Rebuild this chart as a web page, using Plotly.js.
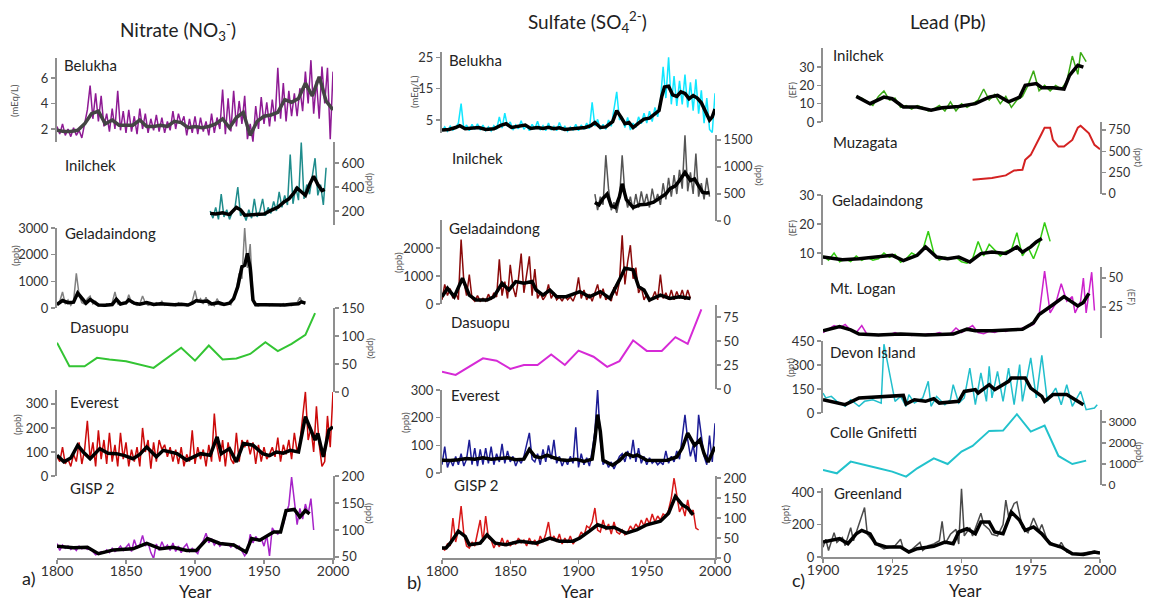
<!DOCTYPE html>
<html><head><meta charset="utf-8">
<script src="https://cdn.plot.ly/plotly-3.0.1.min.js"></script>
<style>html,body{margin:0;padding:0;background:#fff}#chart{width:1151px;height:601px}</style>
</head><body><div id="chart"></div>
<script>
function span(a, b, s) { const o = []; for (let v = a; v <= b + 1e-9; v += s) o.push(v); return o; }

// ---------------- a) Nitrate ----------------
const nitBelukhaYears = span(1800, 2000, 2);
const nitBelukhaRaw = [2.2,1.6,2.4,1.5,2.0,1.4,2.1,1.5,1.9,1.3, 2.4,3.5,5.4,2.8,4.8,2.6,4.6,2.2,3.2,1.8, 3.6,2.0,5.0,1.9,3.4,1.7,3.5,1.8,3.0,1.6, 3.6,2.0,3.2,1.7,2.8,1.9,3.1,1.8,2.9,1.7, 2.6,1.9,3.4,2.0,3.2,2.4,3.0,1.5,2.8,1.7, 3.0,1.6,2.9,1.8,2.6,1.5,3.2,1.7,2.9,2.0, 5.1,1.6,4.4,1.8,5.0,2.2,4.2,2.4,4.6,1.2, 2.4,1.0,3.8,2.0,4.5,2.4,4.1,2.2,4.3,2.6, 6.8,2.8,5.6,2.6,5.0,3.0,4.8,3.0,5.2,3.4, 6.5,4.0,7.4,3.2,5.8,2.8,6.9,4.0,6.8,1.2,6.5];
const nitBelukhaSmYears = span(1800, 2000, 5);
const nitBelukhaSm = [1.9,1.8,1.8,1.9,2.4,3.2,3.4,2.4,2.7,2.3, 2.3,2.3,2.7,2.2,2.2,2.3,2.2,2.6,2.5,2.1, 2.2,2.1,2.2,2.4,2.8,2.1,2.9,3.3,1.5,2.6, 3.0,3.1,3.3,4.3,4.1,4.4,5.6,4.6,6.1,4.2,3.5];

const nitInilchekYears = span(1911, 1995, 2);
const nitInilchekRaw = [200,140,230,130,340,150,210,130,190,230, 400,160,190,120,210,140,300,150,200,300, 160,230,180,280,200,360,230,330,250,670, 260,400,290,770,300,420,340,480,640,330, 420,250,560];
const nitInilchekSmYears = [1911,1915,1920,1925,1930,1933,1936,1940,1945,1950,1955,1960,1965,1968,1971,1974,1977,1980,1983,1986,1989,1992,1994];
const nitInilchekSm = [180,175,185,170,230,210,165,170,175,175,205,230,280,300,340,390,360,330,420,490,420,370,380];

const nitGelYears = span(1800, 1980, 2);
const nitGelRaw = [100,250,600,150,300,100,250,1300,500,200, 150,350,450,150,250,80,120,60,150,100, 200,600,150,120,200,150,500,200,150,100, 150,450,200,100,150,100,200,120,250,100, 150,100,150,80,200,120,150,80,120,250, 650,200,350,150,400,100,150,80,350,120, 100,150,200,120,450,700,1300,1100,3000,1500, 2400,300,100,80,150,100,120,90,150,100, 120,80,160,100,120,90,150,200,400,200,150];
const nitGelSmYears = [1800,1804,1808,1812,1815,1818,1821,1824,1827,1830,1835,1840,1843,1846,1850,1852,1856,1860,1865,1870,1875,1880,1885,1890,1895,1898,1901,1905,1909,1912,1917,1921,1925,1928,1931,1934,1936,1938,1940,1942,1944,1950,1955,1960,1965,1970,1975,1977,1980];
const nitGelSm = [130,280,200,220,560,350,180,320,200,110,100,130,330,150,200,300,180,140,200,130,160,130,120,140,110,180,280,240,260,150,200,130,180,350,800,1550,1600,2050,1500,300,120,120,110,130,110,140,160,230,180];

const nitDasuopuYears = [1800,1809,1820,1829,1838,1850,1870,1890,1900,1910,1920,1930,1940,1951,1960,1970,1980,1987];
const nitDasuopu = [88,46,46,61,58,55,43,79,56,83,58,60,68,89,73,86,102,141];

const nitEverestYears = span(1800, 2000, 2);
const nitEverestRaw = [80,60,120,50,70,40,90,60,140,50, 110,230,70,140,40,190,70,150,50,180, 60,130,40,180,70,140,40,110,60,120, 40,200,100,150,30,140,60,150,110,130, 80,120,60,110,50,120,40,90,60,190, 50,120,70,110,40,130,60,260,120,60, 150,40,140,70,50,180,60,150,120,150, 90,140,50,130,60,120,70,90,120,80, 160,60,130,90,150,70,180,100,140,250, 350,150,200,100,290,130,40,60,250,120,350];
const nitEverestSmYears = [1800,1805,1810,1815,1819,1824,1831,1837,1843,1849,1855,1860,1865,1872,1877,1882,1887,1894,1899,1904,1911,1916,1919,1925,1930,1935,1942,1949,1954,1959,1964,1969,1975,1978,1980,1983,1987,1989,1993,1997,2000];
const nitEverestSm = [86,59,75,128,100,72,114,95,93,85,72,90,121,80,107,100,93,66,80,93,86,163,93,114,59,135,128,93,85,100,95,107,100,190,247,205,149,177,80,191,205];

const nitGispYears = span(1800, 1986, 2);
const nitGispRaw = [75,62,72,66,70,64,68,62,70,65, 68,64,66,60,54,56,60,57,63,58, 66,60,64,70,62,68,74,60,82,66, 72,90,70,76,58,47,74,62,78,66, 72,62,76,60,70,58,68,74,60,66, 60,56,72,80,94,76,84,72,78,70, 76,72,74,68,74,66,70,62,52,60, 92,76,88,80,84,70,90,52,104,96, 92,100,110,130,146,198,150,110,140,120, 148,130,158,100];
const nitGispSmYears = [1800,1812,1822,1830,1841,1855,1865,1875,1884,1894,1901,1909,1918,1928,1937,1941,1947,1952,1957,1962,1966,1972,1976,1980,1983];
const nitGispSm = [70,67,68,56,63,65,75,65,68,62,62,84,75,72,59,84,81,88,96,96,136,138,124,136,130];

// ---------------- b) Sulfate ----------------
const sulBelukhaYears = span(1800, 2000, 2);
const sulBelukhaRaw = [1.5,2.8,1.4,3.0,1.8,2.6,4.0,10.2,2.0,3.4, 1.6,3.6,2.0,3.8,1.8,3.4,1.6,2.8,1.5,3.2, 2.0,6.0,2.4,7.2,3.0,4.4,1.8,3.4,2.2,4.8, 2.0,3.2,1.6,3.6,2.2,4.6,1.8,3.2,1.6,4.0, 1.8,3.0,1.6,4.2,2.0,3.0,1.4,2.8,1.8,3.6, 1.6,3.4,2.0,4.0,2.2,10.6,3.0,5.2,2.0,3.6, 2.0,5.0,3.0,9.0,14.0,5.0,6.0,2.6,5.8,1.8, 4.0,2.6,6.0,3.8,7.2,4.0,7.8,4.5,9.0,6.0, 11.0,22.0,12.0,25.0,10.0,19.0,9.5,17.5,10.0,19.5, 9.0,17.0,8.0,18.0,7.0,14.5,4.0,12.0,2.0,1.0,13.5];
const sulBelukhaSmYears = [1800,1805,1810,1813,1817,1822,1827,1832,1838,1843,1847,1851,1856,1861,1865,1870,1874,1878,1882,1886,1890,1895,1900,1905,1909,1912,1916,1920,1925,1928,1931,1934,1937,1940,1944,1948,1952,1956,1959,1961,1963,1966,1969,1972,1975,1978,1981,1984,1987,1990,1993,1996,1998,2000];
const sulBelukhaSm = [1.8,2.0,2.6,3.2,2.2,2.5,2.6,2.0,2.2,3.3,3.8,2.6,3.0,3.4,2.3,2.6,2.3,2.7,2.2,2.5,2.0,2.2,2.2,2.6,3.2,4.2,2.6,2.8,4.5,8.0,6.0,3.8,4.2,2.6,4.0,5.3,5.6,7.0,8.0,12.5,15.5,15.8,13.0,12.5,14.0,13.5,11.8,12.8,12.0,10.5,8.0,5.0,6.0,8.5];

const sulInilchekYears = span(1912, 1996, 2);
const sulInilchekRaw = [500,200,450,300,1220,600,200,350,150,400, 1220,500,250,450,200,500,250,550,300,500, 250,600,350,500,300,700,400,800,450,850, 500,950,600,1590,550,900,500,1250,450,700, 400,800,450];
const sulInilchekSmYears = [1912,1915,1918,1921,1924,1927,1930,1932,1935,1940,1945,1950,1955,1960,1964,1967,1971,1974,1978,1982,1985,1988,1991,1994,1996];
const sulInilchekSm = [344,300,420,500,280,250,450,690,400,250,300,310,350,440,500,600,650,750,900,750,780,650,530,520,530];

const sulGelYears = span(1800, 1982, 2);
const sulGelRaw = [150,700,300,550,200,400,150,2300,800,300, 1050,200,100,300,100,200,100,350,150,400, 250,1600,300,800,200,1400,600,250,900,1800, 400,1000,1700,300,1250,200,400,150,300,700, 200,400,150,250,100,300,150,250,100,350, 950,200,500,150,350,100,400,700,200,550, 150,250,100,600,300,800,2450,700,1500,2100, 900,1300,400,600,150,350,100,200,450,150, 1050,200,400,150,500,150,450,200,500,150, 500,200];
const sulGelSmYears = [1800,1804,1809,1815,1820,1825,1833,1838,1844,1849,1854,1860,1866,1869,1874,1879,1884,1891,1901,1908,1916,1923,1930,1934,1940,1944,1948,1952,1960,1967,1974,1982];
const sulGelSm = [260,560,260,920,320,140,140,260,740,500,800,740,800,500,320,500,260,260,440,260,440,200,860,1280,1220,620,500,140,320,200,260,200];

const sulDasuopuYears = [1800,1810,1830,1840,1850,1860,1870,1880,1890,1900,1911,1921,1930,1940,1950,1961,1971,1980,1990];
const sulDasuopu = [18,14.7,32,29.5,21,25,25,36,25,40,33.6,23,29,50.7,39.7,39.7,54,47,83];

const sulEverestYears = span(1800, 2000, 2);
const sulEverestRaw = [30,95,20,50,25,60,30,70,25,50, 120,30,90,25,85,30,90,35,95,30, 70,40,105,35,80,40,60,25,50,35, 60,100,145,50,40,70,30,85,40,100, 50,120,35,60,25,50,30,60,35,165, 20,70,30,55,25,80,150,300,120,30, 45,20,40,15,40,60,70,40,80,50, 120,40,90,35,60,30,55,35,45,30, 40,30,80,35,60,40,80,50,130,210, 120,60,100,40,210,130,60,30,135,40,180];
const sulEverestSmYears = [1800,1806,1812,1818,1824,1830,1836,1842,1848,1854,1860,1864,1868,1872,1877,1882,1887,1892,1898,1904,1910,1912,1914,1916,1918,1925,1930,1935,1940,1943,1950,1958,1965,1972,1976,1980,1983,1985,1989,1992,1995,2000];
const sulEverestSm = [46,45,48,52,50,55,50,52,55,48,50,85,60,55,65,55,48,45,50,42,50,120,211,150,46,28,45,70,60,65,46,45,46,58,90,144,120,100,120,70,40,95];

const sulGispYears = span(1800, 1988, 2);
const sulGispRaw = [25,20,35,30,100,40,70,130,60,30, 25,40,30,60,95,40,105,50,45,25, 40,28,50,30,45,30,40,35,50,38, 45,30,50,35,45,30,55,40,60,90, 45,55,40,60,35,50,38,55,35,45, 50,65,55,80,75,90,125,70,65,95, 70,85,60,90,65,60,70,58,65,80, 70,85,75,95,80,100,85,110,90,105, 95,110,105,120,150,200,160,115,130,105, 145,110,120,75,70];
const sulGispSmYears = [1800,1803,1806,1812,1817,1820,1828,1833,1839,1847,1857,1869,1879,1886,1896,1901,1908,1914,1921,1926,1935,1943,1950,1960,1966,1971,1976,1980,1984];
const sulGispSm = [25,25,37,67,54,33,37,58,37,33,42,37,50,42,42,50,67,83,75,77,62,71,83,92,112,154,133,125,108];

// ---------------- c) Lead ----------------
const pbInilchekYears = [1912,1914,1916,1918,1920,1922,1924,1926,1928,1930,1932,1934,1936,1938,1940,1942,1944,1946,1948,1950,1952,1954,1956,1958,1960,1962,1964,1966,1968,1970,1972,1974,1976,1978,1980,1982,1984,1986,1988,1990,1992,1993,1995];
const pbInilchekRaw = [14,13,11,9,14,17,12,13,8,9,7,9,8,6,7,9,6,11,6,10,8,10,12,18,12,15,10,14,8,12,14,20,28,17,20,17,20,18,22,36,26,38,33];
const pbInilchekSmYears = [1912,1917,1922,1925,1929,1934,1939,1943,1949,1955,1960,1963,1967,1971,1973,1977,1979,1983,1987,1989,1992,1994];
const pbInilchekSm = [14,10,13.6,12.7,8.2,8.2,6.4,7.8,8.5,10,13.6,14.5,11,13.6,20,21,18.7,18.7,18,25.5,31,30];

const pbMuzagataYears = [1954,1961,1966,1969,1972,1973,1975,1977,1979,1980,1982,1983,1985,1987,1990,1992,1993,1996,1998,2000];
const pbMuzagata = [167,187,218,276,284,400,459,595,712,778,778,634,556,556,634,778,801,712,576,525];

const pbGelYears = span(1900, 1982, 2);
const pbGelRaw = [9,7.5,10,7,8,7,9,7.5,8.5,7.5, 8,10,8.5,9.5,6.8,8,10,9,11,17.5, 10,7.5,8.5,8,8.5,7,6.5,8,14,9, 13,11,9,10.5,11,17,9,12,8,13, 20.5,14];
const pbGelSmYears = [1900,1907,1913,1921,1925,1929,1934,1937,1941,1945,1949,1953,1957,1961,1966,1970,1972,1975,1977,1979];
const pbGelSm = [8.6,7.7,8,8.6,9.2,7.4,9.2,12.1,8.6,8,8.6,6.9,9.8,10.3,9.8,12.1,10.3,12.1,13.8,15];

const pbLoganYears = [1900,1902,1904,1906,1908,1910,1912,1914,1916,1918,1920,1922,1924,1926,1928,1930,1932,1934,1936,1938,1940,1942,1944,1946,1948,1950,1952,1954,1956,1958,1960,1962,1964,1966,1968,1970,1972,1974,1976,1978,1980,1982,1984,1986,1988,1990,1991,1993,1994,1995,1997,1998];
const pbLoganRaw = [3,6,9,7,10,5,3,9,1,2,0.5,2,1,3,1,2,0.5,1.5,1,2,1.5,3,1,2,7,3,6,9,3,2,4,3,5,4,6,5,7,8,10,18,56,20,28,45,30,34,20,30,50,20,55,22];
const pbLoganSmYears = [1900,1906,1910,1913,1920,1928,1937,1947,1952,1955,1961,1968,1972,1975,1976,1978,1981,1983,1987,1989,1992,1994,1996];
const pbLoganSm = [4.5,8.1,5.3,1.7,0.8,1.7,0.8,1.7,5.9,4.5,4.5,5.3,5.9,10,11.5,18.5,24,27,34,31,26,29,36.8];

const pbDevonYears = [1900,1901,1903,1905,1908,1910,1913,1915,1918,1921,1922,1926,1928,1930,1931,1933,1936,1938,1939,1941,1944,1946,1947,1949,1951,1953,1955,1957,1959,1960,1961,1963,1965,1967,1969,1971,1972,1975,1977,1979,1981,1984,1986,1988,1990,1993,1995,1998,1999];
const pbDevonRaw = [125,94,104,73,42,83,42,73,83,62,430,73,104,42,115,62,94,198,42,104,52,83,177,62,94,281,52,250,73,292,94,260,73,281,52,302,73,344,94,360,73,156,52,177,42,135,21,31,52];
const pbDevonSmYears = [1900,1908,1913,1921,1929,1930,1933,1937,1940,1942,1949,1951,1955,1956,1960,1962,1967,1968,1973,1975,1979,1980,1983,1988,1992,1994];
const pbDevonSm = [83,52,94,104,110,56,83,73,90,62,73,135,146,125,177,146,198,219,219,156,104,73,115,115,73,52];

const pbColleYears = [1900,1905,1910,1914,1920,1925,1930,1934,1940,1945,1950,1954,1960,1965,1970,1975,1980,1985,1990,1995];
const pbColle = [715,556,1113,1000,795,636,400,795,1272,1000,1590,1860,2576,2592,3370,2544,2830,1383,1000,1160];

const pbGreenYears = [1900,1901,1902,1904,1905,1907,1908,1910,1911,1913,1915,1916,1918,1920,1922,1924,1926,1928,1929,1931,1933,1935,1936,1938,1940,1942,1943,1944,1946,1948,1949,1950,1951,1953,1954,1956,1957,1958,1960,1961,1963,1965,1966,1967,1969,1970,1972,1974,1976,1978,1979,1981,1983,1985,1986,1988,1990,1992,1994,1996,1998,2000];
const pbGreenRaw = [60,110,40,150,90,120,70,180,100,200,305,140,100,70,50,60,70,110,50,30,60,90,40,70,80,100,220,80,140,170,80,420,130,180,130,230,270,200,170,140,130,200,350,250,330,340,180,150,240,160,200,100,80,60,90,30,20,15,25,30,35,25];
const pbGreenSmYears = [1900,1903,1906,1909,1912,1914,1917,1919,1923,1928,1931,1934,1940,1944,1947,1949,1952,1955,1957,1960,1962,1965,1968,1971,1973,1976,1979,1982,1986,1990,1994,1998,2000];
const pbGreenSm = [92,102,113,82,143,164,143,82,61,61,31,51,66,92,82,154,174,143,215,215,154,143,277,226,164,185,143,82,61,20,16,31,25];

// ---------------- labels ----------------
const colTitles = ['Nitrate (NO<sub>3</sub><sup>-</sup>)', 'Sulfate (SO<sub>4</sub><sup>2-</sup>)', 'Lead (Pb)'];
const panelLetters = ['a)', 'b)', 'c)'];
const xTicksAB = [1800, 1850, 1900, 1950, 2000];
const xTicksC = [1900, 1925, 1950, 1975, 2000];

// ---------------- build ----------------
const W = 1151, H = 601;
const FONT = 'Lato, "Open Sans", sans-serif';
const AX = '#8f8f8f';
function dom(top, bot) { return [(H - bot) / H, (H - top) / H]; }
function px(x) { return x / W; }
function py(y) { return 1 - y / H; }

const traces = [];
function line(x, y, xa, ya, color, width) {
  traces.push({x: x, y: y, xaxis: xa, yaxis: ya, type: 'scatter', mode: 'lines',
    line: {color: color, width: width}, hoverinfo: 'skip', showlegend: false});
}

const layout = {
  width: W, height: H, margin: {l: 0, r: 0, t: 0, b: 0},
  paper_bgcolor: '#fff', plot_bgcolor: 'rgba(0,0,0,0)',
  font: {family: FONT, color: '#222'}, showlegend: false, annotations: []
};

function yax(n, xa, top, bot, range, ticks, side, fs) {
  layout['yaxis' + (n === 1 ? '' : n)] = {
    anchor: xa, domain: dom(top, bot), range: range, tickvals: ticks, side: side,
    showline: true, linecolor: AX, linewidth: 2, ticks: 'outside', ticklen: 4, tickwidth: 1.5, tickcolor: AX,
    tickfont: {family: FONT, size: fs || 13, color: '#333'}, showgrid: false, zeroline: false, fixedrange: true
  };
}
function xax(n, l, r, range, ticks, anchor) {
  layout['xaxis' + (n === 1 ? '' : n)] = {
    anchor: anchor, domain: [px(l), px(r)], range: range, tickvals: ticks,
    showline: true, linecolor: AX, linewidth: 2, ticks: 'outside', ticklen: 4, tickwidth: 1.5, tickcolor: AX,
    ticklabelstandoff: -5,
    tickfont: {family: FONT, size: 14, color: '#333'}, showgrid: false, zeroline: false, fixedrange: true
  };
}
function ann(text, x, y, size, opts) {
  layout.annotations.push(Object.assign({text: text, x: px(x), y: py(y), xref: 'paper', yref: 'paper',
    showarrow: false, xanchor: 'left', yanchor: 'middle', font: {family: FONT, size: size, color: '#222'}}, opts || {}));
}
function unit(text, x, y, right) {
  ann(text, x, y, 10, {xanchor: 'center', textangle: right ? 90 : -90, font: {family: FONT, size: 9.5, color: '#555'}});
}

// column a
xax(1, 57, 333, [1800, 2000], xTicksAB, 'y6');
yax(1, 'x', 58, 142, [0.98, 7.57], [2, 4, 6], 'left');
yax(2, 'x', 142, 225, [83, 775], [200, 400, 600], 'right');
yax(3, 'x', 228, 308, [0, 3000], [0, 1000, 2000, 3000], 'left');
yax(4, 'x', 308, 392, [0, 150], [0, 50, 100, 150], 'right');
yax(5, 'x', 390, 476, [0, 358], [0, 100, 200, 300], 'left');
yax(6, 'x', 476, 558, [48, 200], [50, 100, 150, 200], 'right');

line(nitBelukhaYears, nitBelukhaRaw, 'x', 'y', '#8e1a94', 1.5);
line(nitBelukhaSmYears, nitBelukhaSm, 'x', 'y', '#444444', 3.5);
line(nitInilchekYears, nitInilchekRaw, 'x', 'y2', '#1f8c8c', 1.5);
line(nitInilchekSmYears, nitInilchekSm, 'x', 'y2', '#000', 3.5);
line(nitGelYears, nitGelRaw, 'x', 'y3', '#808080', 1.5);
line(nitGelSmYears, nitGelSm, 'x', 'y3', '#000', 3.5);
line(nitDasuopuYears, nitDasuopu, 'x', 'y4', '#33c433', 2);
line(nitEverestYears, nitEverestRaw, 'x', 'y5', '#cc0a0a', 1.5);
line(nitEverestSmYears, nitEverestSm, 'x', 'y5', '#000', 3.5);
line(nitGispYears, nitGispRaw, 'x', 'y6', '#a623c8', 1.5);
line(nitGispSmYears, nitGispSm, 'x', 'y6', '#000', 3.5);

// column b
xax(2, 442, 715, [1800, 2000], xTicksAB, 'y12');
yax(7, 'x2', 52, 133, [0.85, 26.7], [5, 15, 25], 'left');
yax(8, 'x2', 135, 221, [0, 1594], [0, 500, 1000, 1500], 'right', 12.5);
yax(9, 'x2', 220, 304, [0, 3000], [0, 1000, 2000], 'left');
yax(10, 'x2', 305, 389, [0, 87.5], [0, 25, 50, 75], 'right');
yax(11, 'x2', 390, 473, [0, 300], [0, 100, 200, 300], 'left');
yax(12, 'x2', 476, 558, [0, 205], [0, 50, 100, 150, 200], 'right');

line(sulBelukhaYears, sulBelukhaRaw, 'x2', 'y7', '#11e6ff', 1.5);
line(sulBelukhaSmYears, sulBelukhaSm, 'x2', 'y7', '#000', 3.5);
line(sulInilchekYears, sulInilchekRaw, 'x2', 'y8', '#555555', 1.5);
line(sulInilchekSmYears, sulInilchekSm, 'x2', 'y8', '#000', 3.5);
line(sulGelYears, sulGelRaw, 'x2', 'y9', '#8a0a0a', 1.5);
line(sulGelSmYears, sulGelSm, 'x2', 'y9', '#000', 3.5);
line(sulDasuopuYears, sulDasuopu, 'x2', 'y10', '#d62ad6', 2);
line(sulEverestYears, sulEverestRaw, 'x2', 'y11', '#1c1c96', 1.5);
line(sulEverestSmYears, sulEverestSm, 'x2', 'y11', '#000', 3.5);
line(sulGispYears, sulGispRaw, 'x2', 'y12', '#d81818', 1.5);
line(sulGispSmYears, sulGispSm, 'x2', 'y12', '#000', 3.5);

// column c
xax(3, 823, 1100, [1900, 2000], xTicksC, 'y19');
yax(13, 'x3', 48, 122, [0, 40.4], [0, 10, 20, 30], 'left');
yax(14, 'x3', 122, 194, [0, 844], [0, 250, 500, 750], 'right', 12.5);
yax(15, 'x3', 195, 265, [5.86, 30], [10, 20, 30], 'left');
yax(16, 'x3', 267, 338, [-1.7, 59.5], [25, 50], 'right', 12.5);
yax(17, 'x3', 341, 413, [0, 450], [0, 150, 300, 450], 'left');
yax(18, 'x3', 410, 485, [0, 3570], [0, 1000, 2000, 3000], 'right', 12);
yax(19, 'x3', 488, 557, [0, 425], [0, 200, 400], 'left');

line(pbInilchekYears, pbInilchekRaw, 'x3', 'y13', '#3aaa14', 1.5);
line(pbInilchekSmYears, pbInilchekSm, 'x3', 'y13', '#000', 3.5);
line(pbMuzagataYears, pbMuzagata, 'x3', 'y14', '#d42222', 2);
line(pbGelYears, pbGelRaw, 'x3', 'y15', '#33cc11', 1.5);
line(pbGelSmYears, pbGelSm, 'x3', 'y15', '#000', 3.5);
line(pbLoganYears, pbLoganRaw, 'x3', 'y16', '#cc22cc', 1.5);
line(pbLoganSmYears, pbLoganSm, 'x3', 'y16', '#000', 3.5);
line(pbDevonYears, pbDevonRaw, 'x3', 'y17', '#22bfcc', 1.5);
line(pbDevonSmYears, pbDevonSm, 'x3', 'y17', '#000', 3.5);
line(pbColleYears, pbColle, 'x3', 'y18', '#22c2cc', 2);
line(pbGreenYears, pbGreenRaw, 'x3', 'y19', '#4a4a4a', 1.5);
line(pbGreenSmYears, pbGreenSm, 'x3', 'y19', '#000', 3.5);

// titles and labels
ann(colTitles[0], 178, 30, 19, {xanchor: 'center'});
ann(colTitles[1], 587, 22, 19, {xanchor: 'center'});
ann(colTitles[2], 948, 22, 19, {xanchor: 'center'});
ann('Year', 195, 591, 17, {xanchor: 'center'});
ann('Year', 577, 591, 17, {xanchor: 'center'});
ann('Year', 965, 590, 17, {xanchor: 'center'});
ann(panelLetters[0], 20, 578, 18);
ann(panelLetters[1], 405, 582, 18);
ann(panelLetters[2], 790, 580, 18);

// station names
[['Belukha', 62, 65], ['Inilchek', 63, 165], ['Geladaindong', 63, 233], ['Dasuopu', 68, 327], ['Everest', 68, 402], ['GISP 2', 68, 488],
 ['Belukha', 447, 60], ['Inilchek', 450, 158], ['Geladaindong', 447, 228], ['Dasuopu', 449, 322], ['Everest', 449, 395], ['GISP 2', 452, 485],
 ['Inilchek', 831, 55], ['Muzagata', 831, 142], ['Geladaindong', 830, 200], ['Mt. Logan', 828, 288], ['Devon Island', 828, 352], ['Colle Gnifetti', 828, 432], ['Greenland', 832, 493]
].forEach(function (s) { ann(s[0], s[1], s[2], 15); });

// unit labels
unit('(mEq/L)', 15, 100, false);
unit('(ppb)', 370, 183, true);
unit('(ppb)', 15, 255, false);
unit('(ppb)', 372, 348, true);
unit('(ppb)', 17, 425, false);
unit('(ppb)', 370, 513, true);
unit('(mEq/L)', 415, 92, false);
unit('(ppb)', 759, 175, true);
unit('(ppb)', 398, 263, false);
unit('(ppb)', 405, 423, false);
unit('(EF)', 793, 90, false);
unit('(ppt)', 1139, 157, true);
unit('(EF)', 792, 228, false);
unit('(EF)', 1132, 297, true);
unit('(ppt)', 790, 368, false);
unit('(ppb)', 1140, 452, true);
unit('(ppt)', 785, 515, false);

Plotly.newPlot('chart', traces, layout, {staticPlot: true, displayModeBar: false});
</script></body></html>
